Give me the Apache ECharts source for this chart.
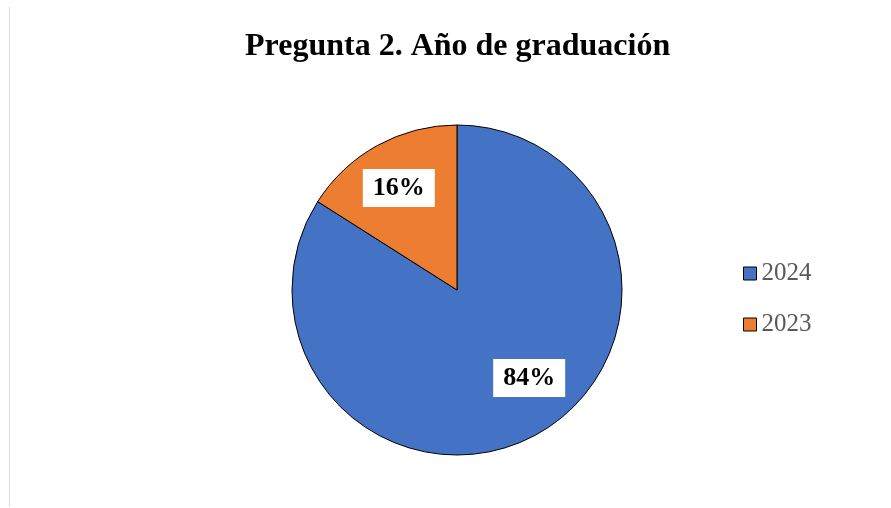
<!DOCTYPE html>
<html>
<head>
<meta charset="utf-8">
<script src="https://cdn.jsdelivr.net/npm/echarts@6/dist/echarts.min.js"></script>
<style>
  html, body { margin: 0; padding: 0; background: #fff; }
  #chart1 { width: 891px; height: 508px; }
</style>
</head>
<body>
<div id="chart1"></div>
<script>
var categories = ['2024', '2023'];
var values = [84, 16];
var colors = ['#4472C4', '#ED7D31'];
// label nudges, Excel places them a bit off the mid radius
var labelOffsets = [[31, 13], [-17, -27]];

var chart1 = echarts.init(document.getElementById('chart1'));

var pieData = categories.map(function (name, i) {
	return {
		name: name,
		value: values[i],
		itemStyle: { color: colors[i] },
		label: { offset: labelOffsets[i] }
	};
});

var option = {
	backgroundColor: '#ffffff',
	animation: false,
	title: {
		text: 'Pregunta 2. Año de graduación',
		left: 245,
		top: 31,
		padding: 0,
		textStyle: {
			fontFamily: 'Liberation Serif',
			fontWeight: 'bold',
			fontSize: 32,
			color: '#000000'
		}
	},
	legend: {
		orient: 'vertical',
		left: 743,
		top: 261,
		padding: 0,
		itemWidth: 13,
		itemHeight: 13,
		itemGap: 26,
		icon: 'rect',
		data: categories,
		itemStyle: { borderColor: '#000000', borderWidth: 1 },
		textStyle: {
			fontFamily: 'Liberation Serif',
			fontSize: 25,
			color: '#595959'
		}
	},
	graphic: [{
		type: 'line',
		shape: { x1: 9.5, y1: 7, x2: 9.5, y2: 507 },
		style: { stroke: '#d9d9d9', lineWidth: 1 }
	}],
	series: [{
		type: 'pie',
		center: [457, 290],
		radius: 165,
		startAngle: 90,
		clockwise: true,
		data: pieData,
		itemStyle: {
			borderColor: '#000000',
			borderWidth: 1
		},
		label: {
			show: true,
			position: 'inside',
			formatter: '{c}%',
			fontFamily: 'Liberation Serif',
			fontWeight: 'bold',
			fontSize: 26,
			color: '#000000',
			backgroundColor: '#ffffff',
			padding: [7, 10, 5, 10]
		},
		labelLine: { show: false },
		emphasis: { disabled: true }
	}]
};

chart1.setOption(option);
</script>
</body>
</html>
